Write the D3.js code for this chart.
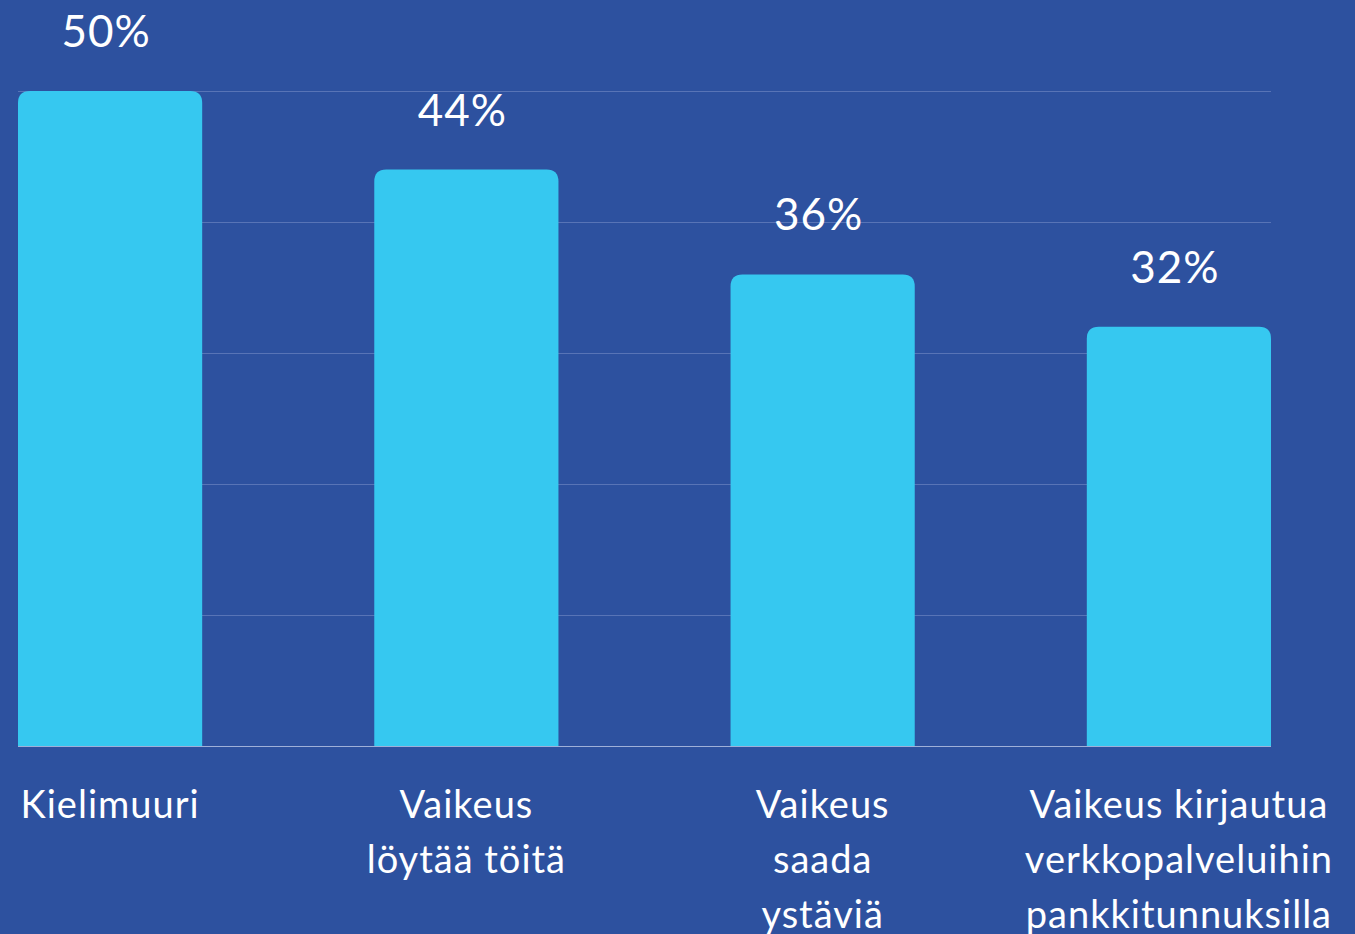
<!DOCTYPE html>
<html>
<head>
<meta charset="utf-8">
<script src="https://cdn.jsdelivr.net/npm/d3@7"></script>
<style>
  html, body { margin: 0; padding: 0; background: #2d519f; }
  svg { display: block; }
</style>
</head>
<body>
<div id="chart"></div>
<script>
// Chart data
const CATEGORIES = ["Kielimuuri", "Vaikeus löytää töitä", "Vaikeus saada ystäviä",
                    "Vaikeus kirjautua verkkopalveluihin pankkitunnuksilla"];
// category labels split into lines as in the picture
const CATEGORY_LINES = [["Kielimuuri"], ["Vaikeus", "löytää töitä"], ["Vaikeus", "saada", "ystäviä"],
                        ["Vaikeus kirjautua", "verkkopalveluihin", "pankkitunnuksilla"]];
const VALUES = [50, 44, 36, 32];
const GRID_TICKS = [10, 20, 30, 40, 50];

// Frame size
const FRAME_WIDTH = 1355;
const FRAME_HEIGHT = 934;
const MARGINS = {left: 18, right: 84, top: 91, bottom: 188};

const VIS_WIDTH = FRAME_WIDTH - MARGINS.left - MARGINS.right;
const VIS_HEIGHT = FRAME_HEIGHT - MARGINS.top - MARGINS.bottom;

const FONT = "Lato, 'Open Sans', sans-serif";

const FRAME = d3.select("#chart")
                .append("svg")
                  .attr("width", FRAME_WIDTH)
                  .attr("height", FRAME_HEIGHT);

// Scales
const X_SCALE = d3.scaleBand()
                  .domain(CATEGORIES)
                  .range([MARGINS.left, MARGINS.left + VIS_WIDTH])
                  .paddingInner(0.483)
                  .paddingOuter(0);

const Y_SCALE = d3.scaleLinear()
                  .domain([0, 50])
                  .range([MARGINS.top + VIS_HEIGHT, MARGINS.top]);

// Grid lines behind the bars
FRAME.selectAll(".grid")
    .data(GRID_TICKS)
    .enter()
    .append("line")
      .attr("x1", MARGINS.left)
      .attr("x2", MARGINS.left + VIS_WIDTH)
      .attr("y1", (d) => Y_SCALE(d) + 0.5)
      .attr("y2", (d) => Y_SCALE(d) + 0.5)
      .attr("stroke", "#5874b6")
      .attr("stroke-width", 1);

// Bars with rounded top corners
function bar_path(x, y, w, h, r) {
    return "M" + x + "," + (y + h) +
           "V" + (y + r) +
           "Q" + x + "," + y + " " + (x + r) + "," + y +
           "H" + (x + w - r) +
           "Q" + (x + w) + "," + y + " " + (x + w) + "," + (y + r) +
           "V" + (y + h) + "Z";
}

const data = CATEGORIES.map((c, i) => ({cat: c, value: VALUES[i], lines: CATEGORY_LINES[i]}));

FRAME.selectAll(".bar")
    .data(data)
    .enter()
    .append("path")
      .attr("class", "bar")
      .attr("d", (d) => bar_path(X_SCALE(d.cat), Y_SCALE(d.value), X_SCALE.bandwidth(),
                                 Y_SCALE(0) - Y_SCALE(d.value), 12))
      .attr("fill", "#36c8f0");

// Baseline
FRAME.append("line")
    .attr("x1", MARGINS.left)
    .attr("x2", MARGINS.left + VIS_WIDTH)
    .attr("y1", Y_SCALE(0) + 0.5)
    .attr("y2", Y_SCALE(0) + 0.5)
    .attr("stroke", "#9fb0d8")
    .attr("stroke-width", 1.2);

// Value labels
FRAME.selectAll(".value")
    .data(data)
    .enter()
    .append("text")
      .attr("x", (d) => X_SCALE(d.cat) + X_SCALE.bandwidth() / 2 - 4)
      .attr("y", (d) => Y_SCALE(d.value) - 44)
      .attr("text-anchor", "middle")
      .attr("fill", "#ffffff")
      .style("font-family", FONT)
      .style("font-size", "44px")
      .style("letter-spacing", "1px")
      .text((d) => d.value + "%");

// Category labels, several lines each
const cat_labels = FRAME.selectAll(".cat")
    .data(data)
    .enter()
    .append("text")
      .attr("text-anchor", "middle")
      .attr("fill", "#ffffff")
      .style("font-family", FONT)
      .style("font-size", "38px")
      .style("letter-spacing", "1px");

cat_labels.selectAll("tspan")
    .data((d) => d.lines.map((l) => ({line: l, cat: d.cat})))
    .enter()
    .append("tspan")
      .attr("x", (d) => X_SCALE(d.cat) + X_SCALE.bandwidth() / 2)
      .attr("y", (d, i) => Y_SCALE(0) + 72 + i * 55)
      .text((d) => d.line);
</script>
</body>
</html>
